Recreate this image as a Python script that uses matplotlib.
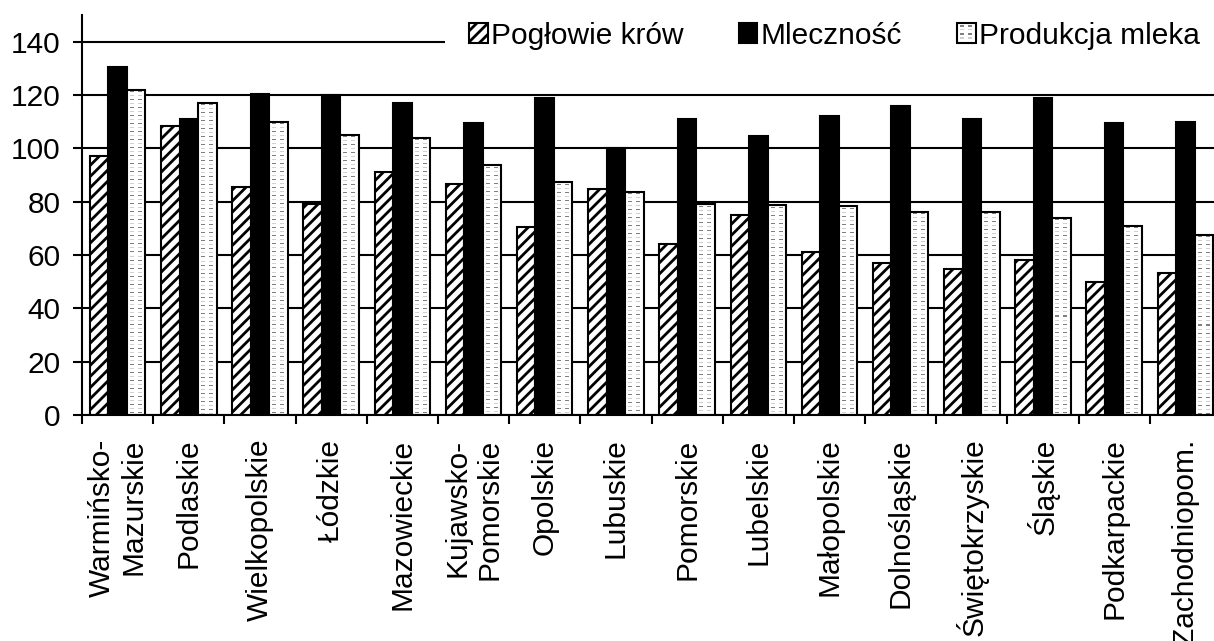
import numpy as np
import matplotlib
matplotlib.use("Agg")
import matplotlib.pyplot as plt
from matplotlib.patches import Patch, Rectangle
from matplotlib.legend_handler import HandlerBase

# Regions (voivodeships) and the three indices for each
regions = ["Warmińsko-\nMazurskie", "Podlaskie", "Wielkopolskie", "Łódzkie",
           "Mazowieckie", "Kujawsko-\nPomorskie", "Opolskie", "Lubuskie",
           "Pomorskie", "Lubelskie", "Małopolskie", "Dolnośląskie",
           "Świętokrzyskie", "Śląskie", "Podkarpackie", "Zachodniopom."]
poglowie = [97.0, 108.5, 85.5, 79.0, 91.0, 86.5, 70.5, 84.7,
            64.0, 75.0, 61.0, 57.0, 54.6, 58.0, 50.0, 53.4]
mlecznosc = [130.5, 111.0, 120.5, 120.0, 117.0, 109.5, 119.0, 100.0,
             111.0, 104.7, 112.0, 116.0, 111.0, 119.0, 109.5, 110.0]
produkcja = [122.0, 117.0, 110.0, 105.0, 104.0, 93.7, 87.3, 83.7,
             79.0, 78.6, 78.2, 76.3, 76.2, 74.0, 71.0, 67.6]
series_names = ["Pogłowie krów", "Mleczność", "Produkcja mleka"]
y_ticks = [0, 20, 40, 60, 80, 100, 120, 140]

plt.rcParams["font.family"] = ["Liberation Sans", "DejaVu Sans"]
plt.rcParams["font.size"] = 21.5
plt.rcParams["hatch.linewidth"] = 2.0
plt.rcParams["hatch.color"] = "black"

W, H = 1214, 641
fig = plt.figure(figsize=(W / 100, H / 100), dpi=100)
ax = fig.add_axes([82 / W, 1 - 415 / H, 1139 / W, 400 / H])

x = np.arange(len(regions))
bw = 0.26
edge_lw = 1.5

# Herd size: white bars with diagonal hatching
ax.bar(x - bw, poglowie, width=bw, facecolor="white", edgecolor="black",
       hatch="///", linewidth=edge_lw, zorder=2)
# Milk yield: solid black bars
ax.bar(x, mlecznosc, width=bw, facecolor="black", edgecolor="black",
       linewidth=edge_lw, zorder=2)
# Milk production: white bars filled with a small dashed texture
prod_bars = ax.bar(x + bw, produkcja, width=bw, facecolor="white",
                   edgecolor="none", linewidth=0, zorder=2)

px_per_unit = 400 / 150.0
dark = np.array([0.50, 0.50, 0.50])
light = np.array([0.82, 0.82, 0.82])
for bar in prod_bars:
    h = bar.get_height()
    nrows = max(int(round(h * px_per_unit)), 1)
    ncols = 18
    tex = np.ones((nrows, ncols, 3))
    for r in range(nrows):
        phase = r % 8
        col = None
        if phase == 2:
            col = dark
        elif phase == 6:
            col = light
        if col is not None:
            for c0, c1 in ((3, 6), (10, 13)):
                tex[r, c0:c1 + 1] = col
    x0 = bar.get_x()
    im = ax.imshow(tex, extent=(x0, x0 + bar.get_width(), 0, h),
                   origin="upper", aspect="auto", interpolation="nearest",
                   zorder=2.1)
    im.set_clip_path(bar)
ax.bar(x + bw, produkcja, width=bw, facecolor="none", edgecolor="black",
       linewidth=edge_lw, zorder=2.2)

ax.set_xlim(-0.5, len(regions) - 0.5)
ax.set_ylim(0, 150)

# Horizontal grid behind the bars
ax.set_axisbelow(True)
ax.yaxis.grid(True, color="black", linewidth=1.5)
ax.xaxis.grid(False)

for side in ("top", "right"):
    ax.spines[side].set_visible(False)
for side in ("left", "bottom"):
    ax.spines[side].set_linewidth(1.5)
    ax.spines[side].set_zorder(3)

ax.set_yticks(y_ticks)
ax.tick_params(axis="y", direction="out", length=6.5, width=1.5, pad=9)

# Ticks between categories, labels centred under each group
ax.set_xticks(np.arange(-0.5, len(regions), 1.0))
ax.set_xticklabels([])
ax.tick_params(axis="x", which="major", direction="out", length=6.5, width=1.5)
ax.set_xticks(x, minor=True)
ax.set_xticklabels(regions, minor=True, rotation=90, ha="center", va="top",
                   multialignment="right")
ax.tick_params(axis="x", which="minor", length=0, pad=17)


class DashBoxHandler(HandlerBase):
    def create_artists(self, legend, orig_handle, xdescent, ydescent,
                       width, height, fontsize, trans):
        x0, y0 = -xdescent, -ydescent
        arts = [Rectangle((x0, y0), width, height, facecolor="white",
                          edgecolor="none", transform=trans)]
        dw, dh = width * 0.22, height * 0.08
        for fx in (0.18, 0.58):
            for fy, colr in ((0.2, "#d0d0d0"), (0.42, "#808080"),
                             (0.64, "#d0d0d0"), (0.82, "#808080")):
                arts.append(Rectangle((x0 + fx * width, y0 + fy * height),
                                      dw, dh, facecolor=colr,
                                      edgecolor="none", transform=trans))
        arts.append(Rectangle((x0, y0), width, height, facecolor="none",
                              edgecolor="black", linewidth=1.5,
                              transform=trans))
        return arts


handles = [
    Patch(facecolor="white", edgecolor="black", hatch="///", linewidth=1.5),
    Patch(facecolor="black", edgecolor="black", linewidth=1.5),
    Patch(facecolor="white", edgecolor="black"),
]
leg = ax.legend(handles, series_names, ncol=3, loc="center left",
                bbox_to_anchor=(445 / W, 1 - 35.5 / H),
                bbox_transform=fig.transFigure,
                handlelength=0.63, handleheight=0.63, handletextpad=0.1,
                columnspacing=1.85, borderpad=0.8, borderaxespad=0,
                frameon=True, fancybox=False, framealpha=1,
                handler_map={handles[2]: DashBoxHandler()})
leg.get_frame().set_facecolor("white")
leg.get_frame().set_edgecolor("none")

fig.savefig("out.png", dpi=100)
